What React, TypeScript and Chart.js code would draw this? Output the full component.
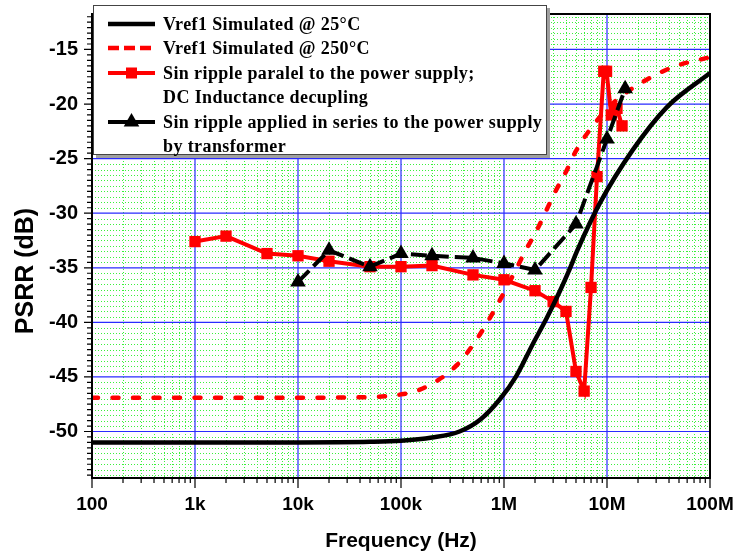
import React, { useEffect, useRef } from "react";
import { Chart, registerables } from "chart.js";

Chart.register(...registerables);

// ---------- data ----------
const freqTickValues = [100, 1e3, 1e4, 1e5, 1e6, 1e7, 1e8];
const freqTickLabels = ["100", "1k", "10k", "100k", "1M", "10M", "100M"];
const psrrTickValues = [-50, -45, -40, -35, -30, -25, -20, -15];

const sim25Freq = [100, 1e3, 1e4, 5e4, 1e5, 2e5, 3.7e5, 5.9e5, 9.2e5, 1.32e6, 1.9e6, 2.6e6, 3.5e6, 4.35e6, 5.1e6, 8.5e6, 1.78e7, 3.8e7, 1e8];
const sim25Psrr = [-51, -51, -51, -50.95, -50.85, -50.55, -50.0, -48.9, -47.0, -44.9, -42.0, -39.6, -37.1, -35.1, -33.5, -29.1, -24.2, -20.3, -17.15];

const sim250Freq = [100, 1e3, 1e4, 5e4, 1e5, 1.4e5, 2.2e5, 3.5e5, 5.4e5, 8.5e5, 1.3e6, 1.6e6, 2.1e6, 2.5e6, 3.2e6, 4e6, 5e6, 8.5e6, 1.25e7, 2.2e7, 4.4e7, 1e8];
const sim250Psrr = [-46.9, -46.9, -46.9, -46.85, -46.6, -46.3, -45.4, -43.9, -41.6, -38.5, -35.2, -33.5, -31.5, -30, -27.9, -26.2, -24.3, -21.2, -19.6, -18, -16.6, -15.7];

const parallelFreq = [1e3, 2e3, 5e3, 1e4, 2e4, 5e4, 1e5, 2e5, 5e5, 1e6, 2e6, 3e6, 4e6, 5e6, 6e6, 7e6, 8e6, 9.3e6, 9.9e6, 1.1e7, 1.25e7, 1.4e7];
const parallelPsrr = [-32.6, -32.1, -33.7, -33.9, -34.4, -34.9, -34.9, -34.8, -35.65, -36.1, -37.1, -38.1, -39.0, -44.5, -46.3, -36.8, -26.65, -17.0, -17.0, -21.0, -20.4, -22.0];

const seriesFreq = [1e4, 2e4, 5e4, 1e5, 2e5, 5e5, 1e6, 2e6, 5e6, 1e7, 1.5e7];
const seriesPsrr = [-36.3, -33.4, -34.9, -33.7, -33.9, -34.1, -34.6, -35.2, -31.0, -23.2, -18.6];

const legendLines = [
  "Vref1 Simulated @ 25\u00B0C",
  "Vref1 Simulated @ 250\u00B0C",
  "Sin ripple paralel to the power supply;",
  "DC Inductance decupling",
  "Sin ripple applied in series to the power supply",
  "by transformer",
];
const xTitle = "Frequency (Hz)";
const yTitle = "PSRR (dB)";

const toPoints = (xs: number[], ys: number[]) => xs.map((x, i) => ({ x, y: ys[i] }));

const SANS = "'Liberation Sans', Arial, sans-serif";
const SERIF = "'Liberation Serif', 'Times New Roman', serif";

const decorPlugin = {
  id: "decor",
  beforeDatasetsDraw(chart: any) {
    const { ctx, chartArea: a, scales } = chart;
    const xs = scales.x;
    const ys = scales.y;
    ctx.save();
    // green dotted minor grid
    ctx.strokeStyle = "#3cf03c";
    ctx.lineWidth = 1;
    ctx.setLineDash([1, 2]);
    ctx.beginPath();
    for (let d = 100; d < 1e8; d *= 10) {
      for (let k = 2; k <= 9; k++) {
        const px = Math.round(xs.getPixelForValue(k * d)) + 0.5;
        ctx.moveTo(px, a.top);
        ctx.lineTo(px, a.bottom);
      }
    }
    for (let v = -54; v <= -12; v += 0.5) {
      if (v % 5 === 0) continue;
      const py = Math.round(ys.getPixelForValue(v)) + 0.5;
      ctx.moveTo(a.left, py);
      ctx.lineTo(a.right, py);
    }
    ctx.stroke();
    // blue major grid
    ctx.setLineDash([]);
    ctx.strokeStyle = "#2a2aff";
    ctx.lineWidth = 1.2;
    ctx.beginPath();
    freqTickValues.forEach((f) => {
      const px = xs.getPixelForValue(f);
      if (px <= a.left + 1 || px >= a.right - 1) return;
      ctx.moveTo(px, a.top);
      ctx.lineTo(px, a.bottom);
    });
    psrrTickValues.forEach((v) => {
      const py = ys.getPixelForValue(v);
      ctx.moveTo(a.left, py);
      ctx.lineTo(a.right, py);
    });
    ctx.stroke();
    ctx.restore();
  },
  afterDatasetsDraw(chart: any) {
    const { ctx, chartArea: a, scales } = chart;
    const xs = scales.x;
    const ys = scales.y;
    ctx.save();
    ctx.strokeStyle = "#000";
    ctx.lineWidth = 2;
    ctx.strokeRect(a.left, a.top, a.right - a.left, a.bottom - a.top);
    // ticks
    ctx.lineWidth = 1.2;
    ctx.beginPath();
    for (let d = 100; d <= 1e8; d *= 10) {
      const px = xs.getPixelForValue(d);
      ctx.moveTo(px, a.bottom);
      ctx.lineTo(px, a.bottom + 10);
      if (d < 1e8) {
        for (let k = 2; k <= 9; k++) {
          const p = xs.getPixelForValue(k * d);
          ctx.moveTo(p, a.bottom);
          ctx.lineTo(p, a.bottom + 5);
        }
      }
    }
    for (let v = -54; v <= -12; v += 0.5) {
      const py = ys.getPixelForValue(v);
      const len = v % 5 === 0 ? 8 : 5;
      ctx.moveTo(a.left, py);
      ctx.lineTo(a.left - len, py);
    }
    ctx.stroke();
    ctx.restore();
  },
  afterDraw(chart: any) {
    const { ctx, chartArea: a } = chart;
    ctx.save();
    // axis titles
    ctx.fillStyle = "#000";
    ctx.font = `bold 21px ${SANS}`;
    ctx.textAlign = "center";
    ctx.textBaseline = "middle";
    ctx.fillText(xTitle, (a.left + a.right) / 2, 541);
    ctx.save();
    ctx.translate(26, 271);
    ctx.rotate(-Math.PI / 2);
    ctx.font = `bold 25px ${SANS}`;
    ctx.fillText(yTitle, 0, 0);
    ctx.restore();

    // legend box
    const bx = 93, by = 5, bw = 454, bh = 150;
    ctx.fillStyle = "#a0a0a0";
    ctx.fillRect(bx + 3, by + 3, bw, bh);
    ctx.fillStyle = "#fff";
    ctx.fillRect(bx, by, bw, bh);
    ctx.strokeStyle = "#444";
    ctx.lineWidth = 1;
    ctx.strokeRect(bx + 0.5, by + 0.5, bw - 1, bh - 1);

    const rows = [24, 48, 73, 97, 122, 146];
    const sx0 = 108, sx1 = 155, sxc = 131.5;
    // row 0: black solid
    ctx.lineCap = "butt";
    ctx.strokeStyle = "#000";
    ctx.lineWidth = 4.5;
    ctx.beginPath(); ctx.moveTo(sx0, rows[0]); ctx.lineTo(sx1, rows[0]); ctx.stroke();
    // row 1: red dashed
    ctx.strokeStyle = "#ff0000";
    ctx.setLineDash([11, 5]);
    ctx.beginPath(); ctx.moveTo(sx0, rows[1]); ctx.lineTo(sx1, rows[1]); ctx.stroke();
    ctx.setLineDash([]);
    // row 2: red with square
    ctx.lineWidth = 4;
    ctx.beginPath(); ctx.moveTo(sx0, rows[2]); ctx.lineTo(sx1, rows[2]); ctx.stroke();
    ctx.fillStyle = "#ff0000";
    ctx.fillRect(sxc - 5.5, rows[2] - 5.5, 11, 11);
    // row 4: black with triangle
    ctx.strokeStyle = "#000";
    ctx.beginPath(); ctx.moveTo(sx0, rows[4]); ctx.lineTo(sx1, rows[4]); ctx.stroke();
    ctx.fillStyle = "#000";
    const r = 9;
    ctx.beginPath();
    ctx.moveTo(sxc, rows[4] - r);
    ctx.lineTo(sxc + r * 0.866, rows[4] + r / 2);
    ctx.lineTo(sxc - r * 0.866, rows[4] + r / 2);
    ctx.closePath();
    ctx.fill();

    ctx.fillStyle = "#000";
    ctx.font = `bold 18px ${SERIF}`;
    (ctx as any).letterSpacing = "0.4px";
    ctx.textAlign = "left";
    ctx.textBaseline = "middle";
    legendLines.forEach((t, i) => ctx.fillText(t, 163, rows[i] + 1));
    ctx.restore();
  },
};

export default function App() {
  const ref = useRef<HTMLCanvasElement | null>(null);
  useEffect(() => {
    if (!ref.current) return;
    const chart = new Chart(ref.current, {
      type: "line",
      data: {
        datasets: [
          {
            label: legendLines[0],
            data: toPoints(sim25Freq, sim25Psrr),
            borderColor: "#000",
            borderWidth: 4.5,
            pointRadius: 0,
            cubicInterpolationMode: "monotone",
            fill: false,
          },
          {
            label: legendLines[4],
            data: toPoints(seriesFreq, seriesPsrr),
            borderColor: "#000",
            backgroundColor: "#000",
            borderWidth: 4,
            borderDash: [16, 6],
            pointStyle: "triangle",
            pointRadius: 9,
            pointBorderWidth: 0,
            tension: 0,
            fill: false,
          },
          {
            label: legendLines[2],
            data: toPoints(parallelFreq, parallelPsrr),
            borderColor: "#ff0000",
            backgroundColor: "#ff0000",
            borderWidth: 4,
            pointStyle: "rect",
            pointRadius: 8,
            pointBorderWidth: 0,
            tension: 0,
            fill: false,
          },
          {
            label: legendLines[1],
            data: toPoints(sim250Freq, sim250Psrr),
            borderColor: "#ff0000",
            borderWidth: 4.5,
            borderDash: [6, 14.5],
            borderCapStyle: "round",
            pointRadius: 0,
            cubicInterpolationMode: "monotone",
            fill: false,
          },
        ],
      },
      options: {
        animation: false,
        responsive: false,
        devicePixelRatio: 1,
        layout: { padding: { top: 14, right: 25, left: 0, bottom: 0 } },
        plugins: { legend: { display: false }, tooltip: { enabled: false } },
        scales: {
          x: {
            type: "logarithmic",
            min: 100,
            max: 1e8,
            grid: { display: false, drawTicks: false },
            border: { display: false },
            afterBuildTicks: (s: any) => {
              s.ticks = freqTickValues.map((v) => ({ value: v }));
            },
            afterFit: (s: any) => {
              s.height = 80;
              s.paddingLeft = 0;
              s.paddingRight = 0;
            },
            ticks: {
              autoSkip: false,
              maxRotation: 0,
              padding: 15,
              color: "#000",
              font: { family: SANS, weight: "bold", size: 19 },
              callback: (v: any) => {
                const i = freqTickValues.indexOf(Number(v));
                return i >= 0 ? freqTickLabels[i] : "";
              },
            },
          },
          y: {
            type: "linear",
            min: -54.26,
            max: -11.75,
            grid: { display: false, drawTicks: false },
            border: { display: false },
            afterBuildTicks: (s: any) => {
              s.ticks = psrrTickValues.map((v) => ({ value: v }));
            },
            afterFit: (s: any) => {
              s.width = 92;
              s.paddingTop = 0;
              s.paddingBottom = 0;
            },
            ticks: {
              padding: 14,
              color: "#000",
              font: { family: SANS, weight: "bold", size: 20 },
              callback: (v: any) => String(v),
            },
          },
        },
      },
      plugins: [decorPlugin],
    } as any);
    return () => chart.destroy();
  }, []);
  return (
    <div style={{ position: "absolute", left: 0, top: 0, width: 735, height: 558, background: "#fff" }}>
      <canvas ref={ref} width={735} height={558} style={{ display: "block" }} />
    </div>
  );
}
